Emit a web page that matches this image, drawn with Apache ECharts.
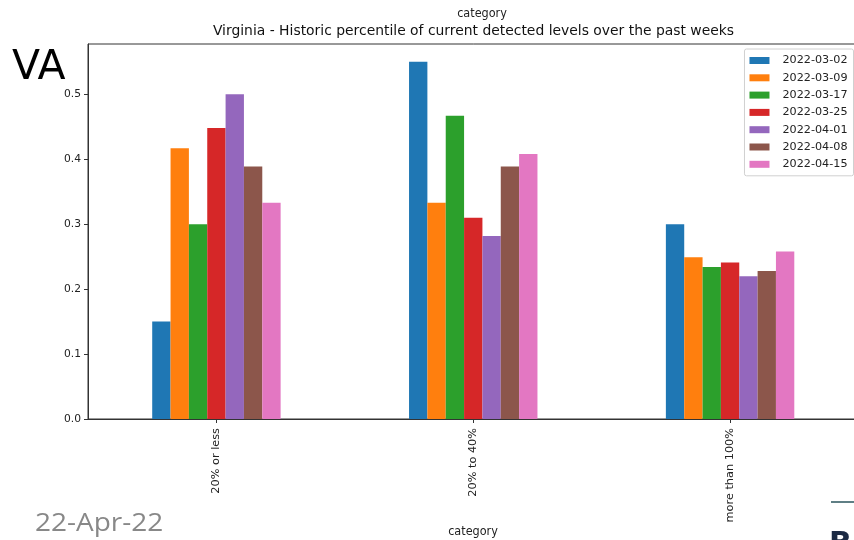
<!DOCTYPE html>
<html><head><meta charset="utf-8">
<script src="https://cdn.jsdelivr.net/npm/echarts@6/dist/echarts.min.js"></script>
<style>html,body{margin:0;padding:0;background:#fff;overflow:hidden}#c{width:864px;height:540px}</style>
</head><body><div id="c"></div>
<script>
const categories = ['20% or less', '20% to 40%', 'more than 100%'];
const seriesNames = ['2022-03-02','2022-03-09','2022-03-17','2022-03-25','2022-04-01','2022-04-08','2022-04-15'];
const s0302 = [0.150, 0.550, 0.300];
const s0309 = [0.417, 0.333, 0.249];
const s0317 = [0.300, 0.467, 0.234];
const s0325 = [0.448, 0.310, 0.241];
const s0401 = [0.500, 0.282, 0.220];
const s0408 = [0.389, 0.389, 0.228];
const s0415 = [0.333, 0.408, 0.258];
const yTicks = [0, 0.1, 0.2, 0.3, 0.4, 0.5];
const colors = ['#1f77b4','#ff7f0e','#2ca02c','#d62728','#9467bd','#8c564b','#e377c2'];
const allSeries = [s0302, s0309, s0317, s0325, s0401, s0408, s0415];

const font = 'DejaVu Sans';
const chart = echarts.init(document.getElementById('c'), null, {renderer: 'canvas'});
chart.setOption({
  animation: false,
  color: colors,
  grid: {left: 88, top: 44, width: 770.5, height: 375, show: true, borderColor: '#333', borderWidth: 1, backgroundColor: 'transparent'},
  xAxis: {
    type: 'category', data: categories, boundaryGap: true,
    axisLine: {show: true, lineStyle: {color: '#333', width: 1}},
    axisTick: {show: true, alignWithLabel: true, length: 4, lineStyle: {color: '#333'}},
    axisLabel: {rotate: 90, fontFamily: font, fontSize: 11.3, color: '#222', margin: 9}
  },
  yAxis: {
    type: 'value', min: 0, max: 0.5775, interval: 0.1,
    splitLine: {show: false},
    axisLine: {show: true, lineStyle: {color: '#333', width: 1}},
    axisTick: {show: true, length: 4, lineStyle: {color: '#333'}, customValues: yTicks},
    axisLabel: {fontFamily: font, fontSize: 10.7, color: '#222', margin: 7, customValues: yTicks,
      formatter: v => v.toFixed(1)}
  },
  legend: {
    orient: 'vertical', right: 10.5, top: 49,
    data: seriesNames,
    icon: 'rect', itemWidth: 20, itemHeight: 7, itemGap: 4.3,
    padding: [5, 6, 5, 5],
    borderColor: '#d0d0d0', borderWidth: 1, borderRadius: 2, backgroundColor: '#fff',
    textStyle: {fontFamily: font, fontSize: 11.2, color: '#222', lineHeight: 13, padding: [0, 0, 0, 8]}
  },
  series: seriesNames.map((n, i) => ({
    name: n, type: 'bar', data: allSeries[i],
    barGap: '0%', barCategoryGap: '50%'
  })),
  graphic: [
    {type: 'text', x: 482, y: 14, style: {text: 'category', font: '12.5px "DejaVu Sans Condensed", "DejaVu Sans"', fill: '#222', align: 'center', verticalAlign: 'middle'}},
    {type: 'text', x: 473.5, y: 31, style: {text: 'Virginia - Historic percentile of current detected levels over the past weeks', font: '13.9px "DejaVu Sans"', fill: '#111', align: 'center', verticalAlign: 'middle'}},
    {type: 'text', x: 473, y: 532, style: {text: 'category', font: '12.5px "DejaVu Sans Condensed", "DejaVu Sans"', fill: '#222', align: 'center', verticalAlign: 'middle'}},
    {type: 'text', x: 12, y: 68, style: {text: 'VA', font: '41px "DejaVu Sans"', fill: '#000', verticalAlign: 'middle'}},
    {type: 'text', x: 35, y: 524, scaleX: 1.12, originX: 0, originY: 0, style: {text: '22-Apr-22', font: '25px "Open Sans"', fill: '#888', verticalAlign: 'middle'}},
    {type: 'line', shape: {x1: 831, y1: 502, x2: 854, y2: 502}, style: {stroke: '#5f7f85', lineWidth: 2}},
    {type: 'text', x: 829, y: 530, style: {text: 'B', font: 'bold 30px "DejaVu Sans"', fill: '#1b2a44'}},
    {type: 'text', x: 800, y: -6, rotation: Math.PI/2, style: {text: 'n', font: '9px "DejaVu Sans"', fill: '#555'}}
  ]
});
</script>
</body></html>
